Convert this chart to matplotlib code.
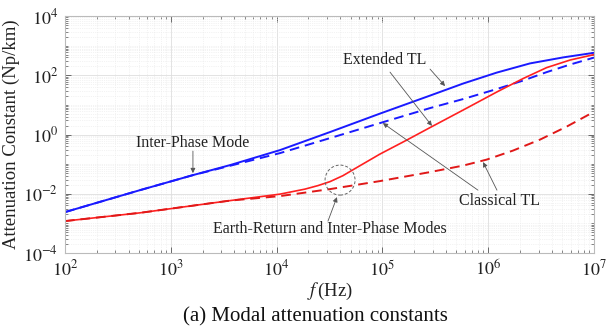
import matplotlib
matplotlib.use("Agg")
import matplotlib.pyplot as plt
import numpy as np
from matplotlib.ticker import LogLocator, FixedLocator, NullFormatter, FuncFormatter
from matplotlib.patches import Circle
from matplotlib.transforms import ScaledTranslation

plt.rcParams["font.family"] = ["Liberation Serif", "DejaVu Serif"]
plt.rcParams["mathtext.fontset"] = "stix"

# Inter-phase mode, extended TL model
f_ip_ext = [1e2, 512, 1622, 3631, 1.076e4, 3.199e4, 9.484e4, 2.818e5, 5.781e5,
            1.202e6, 2.483e6, 5.129e6, 1e7]
a_ip_ext = [2.39e-3, 1.32e-2, 4.25e-2, 9.25e-2, 0.297, 1.21, 5.08, 20.6, 52.5,
            123, 252, 403, 575]

# Inter-phase mode, classical TL model
f_ip_cls = [1e2, 512, 1622, 3631, 1.076e4, 3.199e4, 9.484e4, 2.818e5, 5.781e5,
            1.202e6, 2.133e6, 3.57e6, 5.93e6, 1e7]
a_ip_cls = [2.39e-3, 1.32e-2, 4.25e-2, 8.77e-2, 0.235, 0.755, 2.43, 7.80, 15.7,
            34.2, 66.2, 128, 230, 396]

# Earth-return mode, extended TL model
f_er_ext = [1e2, 512, 3631, 1.076e4, 1.855e4, 2.462e4, 3.199e4, 4.243e4, 5.715e4,
            9.484e4, 1.698e5, 2.818e5, 5.781e5, 1.202e6, 2.133e6, 3.57e6, 5.93e6, 1e7]
a_er_ext = [1.19e-3, 2.26e-3, 5.85e-3, 9.68e-3, 1.43e-2, 1.88e-2, 2.56e-2, 4.08e-2, 7.62e-2,
            0.218, 0.647, 1.71, 6.67, 27.1, 77.4, 182, 327, 500]

# Earth-return mode, classical TL model
f_er_cls = [1e2, 512, 3631, 1.076e4, 3.199e4, 9.484e4, 2.818e5, 5.781e5, 9.68e5,
            1.714e6, 3.09e6, 5.52e6, 1e7]
a_er_cls = [1.19e-3, 2.26e-3, 5.85e-3, 8.30e-3, 1.43e-2, 2.67e-2, 5.37e-2, 8.89e-2, 0.142,
            0.286, 0.673, 1.85, 5.85]

fig = plt.figure(figsize=(6.07, 3.35), dpi=100)
ax = fig.add_axes([0.107, 0.245, 0.8716, 0.707])

ax.plot(f_ip_ext, a_ip_ext, color="#1a1aff", lw=1.4)
ax.plot(f_ip_cls, a_ip_cls, color="#1a1aff", lw=1.4, ls=(0, (5, 3)))
ax.plot(f_er_ext, a_er_ext, color="#ff2020", lw=1.2)
ax.plot(f_er_cls, a_er_cls, color="#e01818", lw=1.4, ls=(0, (5, 3)))

ax.set_xscale("log")
ax.set_yscale("log")
ax.set_xlim(1e2, 1e7)
ax.set_ylim(1e-4, 1e4)

ax.xaxis.set_major_locator(FixedLocator([1e2, 1e3, 1e4, 1e5, 1e6, 1e7]))
ax.yaxis.set_major_locator(FixedLocator([1e-4, 1e-2, 1e0, 1e2, 1e4]))
ax.xaxis.set_minor_locator(LogLocator(base=10, subs=np.arange(2, 10), numticks=100))
ax.yaxis.set_minor_locator(LogLocator(base=10, subs=np.arange(1, 10), numticks=100))
ax.xaxis.set_minor_formatter(NullFormatter())
ax.yaxis.set_minor_formatter(NullFormatter())
fmt = FuncFormatter(lambda v, p: r"$10^{%d}$" % int(round(np.log10(v))))
ax.xaxis.set_major_formatter(fmt)
ax.yaxis.set_major_formatter(fmt)

ax.tick_params(which="both", direction="in", top=True, right=True,
               color="#555555", labelsize=13, labelcolor="#222222")
ax.tick_params(which="major", length=4, width=0.6, pad=5)
ax.tick_params(which="minor", length=2.5, width=0.5)
for s in ax.spines.values():
    s.set_color("#bbbbbb")
    s.set_linewidth(0.8)

ax.grid(which="major", color="#dedede", lw=0.6, ls="-")
ax.grid(which="minor", color="#e8e8e8", lw=0.5, ls=":")
ax.set_axisbelow(True)

ax.set_ylabel("Attenuation Constant (Np/km)", fontsize=13.5, color="#222222", labelpad=2)
ax.set_xlabel(r"$f\,$(Hz)", fontsize=13.5, color="#222222", labelpad=1)
fig.text(0.52, 0.025, "(a) Modal attenuation constants", ha="center", va="bottom",
         fontsize=15, color="#111111")

arrow = dict(arrowstyle="-|>", color="#555555", lw=0.6, mutation_scale=7,
             shrinkA=0, shrinkB=0)
txt = dict(fontsize=11.5, color="#222222", ha="center", va="center")

# Inter-phase mode label
ax.text(1620, 0.51, "Inter-Phase Mode", **txt)
ax.annotate("", xy=(1620, 0.0497), xytext=(1620, 0.275), arrowprops=arrow)

# Extended TL label
ax.text(1.06e5, 327, "Extended TL", **txt)
ax.annotate("", xy=(3.91e5, 43.2), xytext=(2.82e5, 162), arrowprops=arrow)
ax.annotate("", xy=(2.94e5, 1.95), xytext=(1.18e5, 128), arrowprops=arrow)

# Classical TL label
ax.text(1.29e6, 5.6e-3, "Classical TL", **txt)
ax.annotate("", xy=(1.01e5, 2.43), xytext=(8.0e5, 1.32e-2), arrowprops=arrow)
ax.annotate("", xy=(8.93e5, 0.117), xytext=(1.21e6, 1.32e-2), arrowprops=arrow)

# Earth-return / inter-phase label and highlighted region
ax.text(3.2e4, 6.4e-4, "Earth-Return and Inter-Phase Modes", **txt)
ax.annotate("", xy=(3.72e4, 7.67e-3), xytext=(3.06e4, 1.19e-3), arrowprops=arrow)
circ = Circle((0, 0), 0.15, fill=False, ec="#666666", lw=0.7, ls=(0, (3, 2)),
              transform=fig.dpi_scale_trans + ScaledTranslation(10**4.6, 10**-1.54, ax.transData))
fig.add_artist(circ)

fig.savefig("out.png", dpi=100)
